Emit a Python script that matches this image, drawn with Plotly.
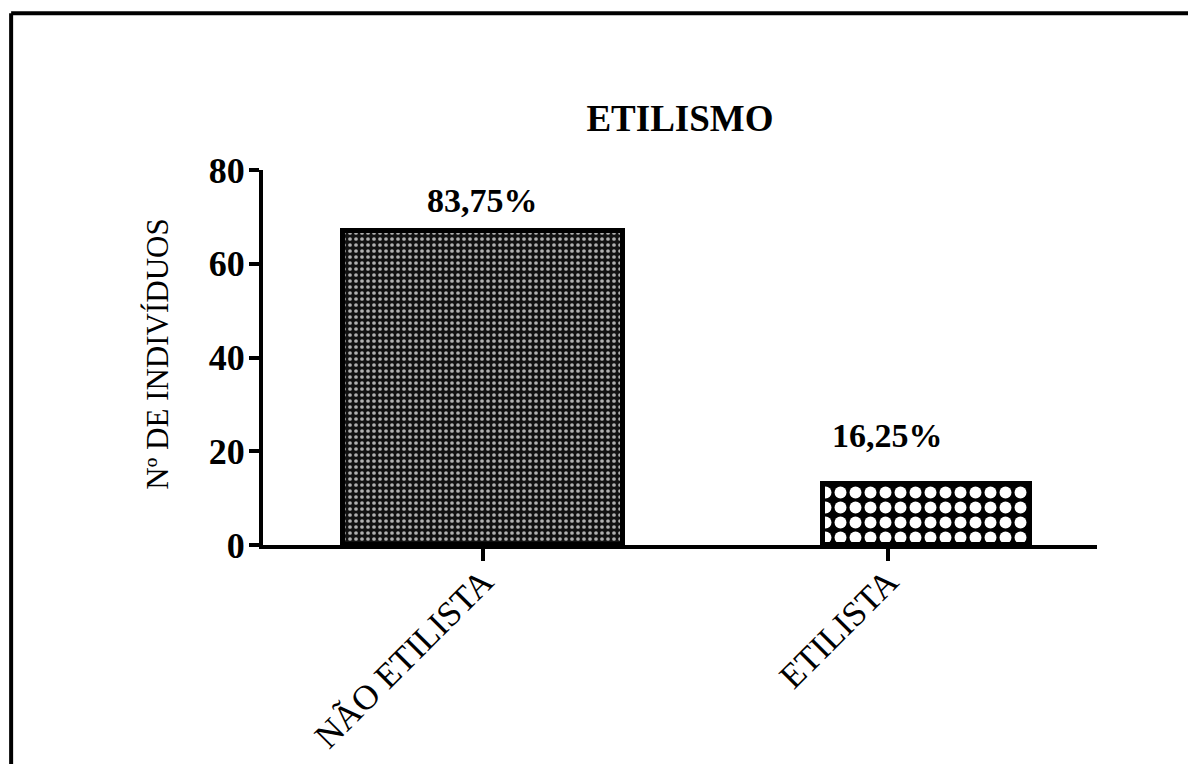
import plotly.graph_objects as go

# Data
categories = ["NÃO ETILISTA", "ETILISTA"]
counts = [67, 13]
pct_labels = ["83,75%", "16,25%"]
title_text = "ETILISMO"
y_title = "Nº DE INDIVÍDUOS"
y_ticks = [0, 20, 40, 60, 80]

FONT = "Liberation Serif"

fig = go.Figure()
fig.add_trace(go.Bar(
    x=categories,
    y=counts,
    width=[0.69, 0.51],
    offset=[-0.345, -0.16],
    marker=dict(
        color="black",
        line=dict(color="black", width=5),
        pattern=dict(
            shape=[".", "."],
            fillmode="replace",
            bgcolor=["#111111", "black"],
            fgcolor=["#b0b0b0", "white"],
            size=[6, 15],
            solidity=[0.3, 0.5],
        ),
    ),
    showlegend=False,
    hoverinfo="skip",
))

# percent labels above bars
for cat, val, lab, ys in zip(categories, counts, pct_labels, [10, 28]):
    fig.add_annotation(
        x=cat, y=val, text=lab, showarrow=False,
        yanchor="bottom", yshift=ys,
        font=dict(family=FONT, size=34, color="black", weight="bold"),
    )

# y axis title as annotation
fig.add_annotation(
    xref="paper", yref="paper", x=-0.126, y=0.51,
    text=y_title, textangle=-90, showarrow=False,
    xanchor="center", yanchor="middle",
    font=dict(family=FONT, size=31, color="black"),
)

# outer border (left and top lines)
fig.add_shape(type="line", xref="paper", yref="paper",
              x0=-0.302, x1=-0.302, y0=1.418, y1=-0.62,
              line=dict(color="black", width=4))
fig.add_shape(type="line", xref="paper", yref="paper",
              x0=-0.302, x1=1.13, y0=1.418, y1=1.418,
              line=dict(color="black", width=4))

fig.update_layout(
    width=1188, height=756,
    margin=dict(l=255, r=99, t=162, b=219),
    paper_bgcolor="white", plot_bgcolor="white",
    title=dict(
        text=title_text, xref="paper", x=0.5, xanchor="center",
        yref="container", y=1 - 110 / 756, yanchor="middle",
        font=dict(family=FONT, size=37, color="black", weight="bold"),
    ),
    bargap=0,
)

fig.update_xaxes(
    range=[-0.543, 1.516],
    automargin=False,
    showline=True, linewidth=4, linecolor="black",
    ticks="outside", ticklen=12, tickwidth=4, tickcolor="black",
    tickangle=-45,
    ticklabelstandoff=-14,
    tickfont=dict(family=FONT, size=35, color="black"),
    showgrid=False, zeroline=False,
)
fig.update_yaxes(
    range=[0, 80],
    automargin=False,
    tickvals=y_ticks,
    showline=True, linewidth=4, linecolor="black",
    ticks="outside", ticklen=10, tickwidth=4, tickcolor="black",
    ticklabelstandoff=-3,
    tickfont=dict(family=FONT, size=36, color="black", weight="bold"),
    showgrid=False, zeroline=False,
)

fig.write_html("out.html")
